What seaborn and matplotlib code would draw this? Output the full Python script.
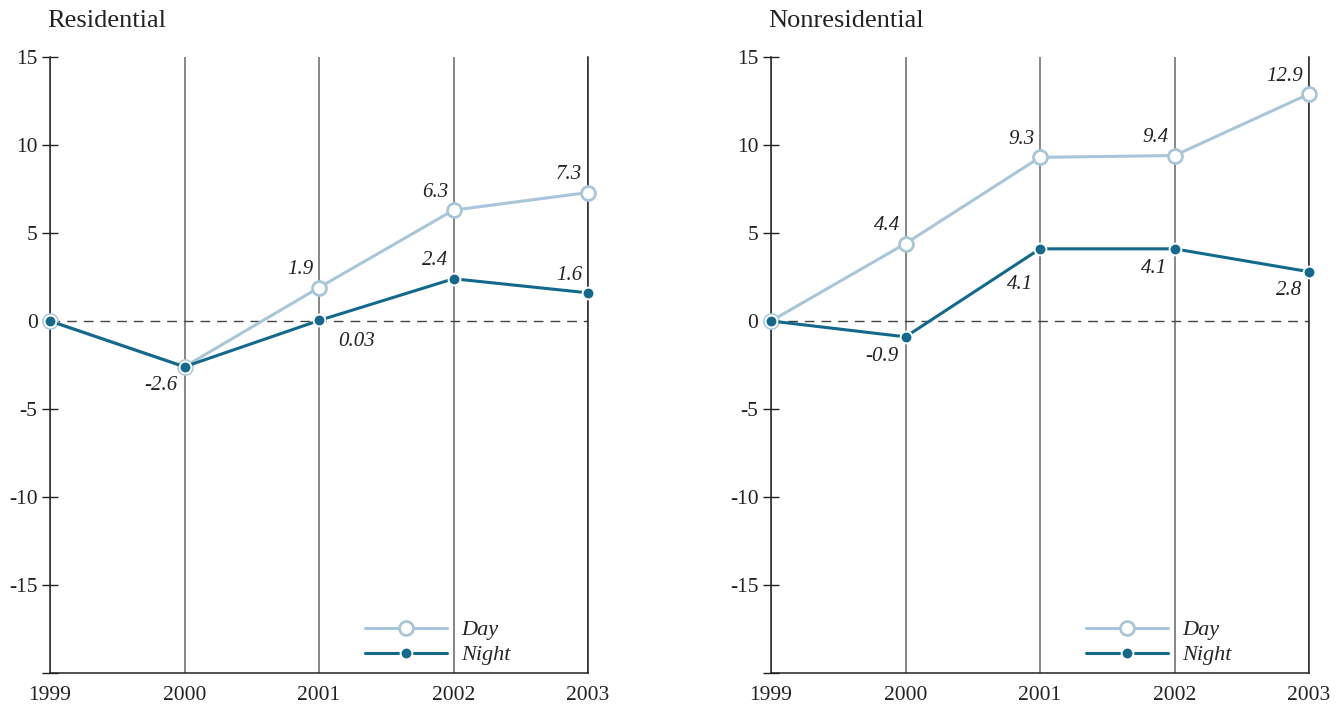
import matplotlib
matplotlib.use("Agg")
import matplotlib.pyplot as plt
import pandas as pd
import seaborn as sns

years = [1999, 2000, 2001, 2002, 2003]

res_day = [0, -2.6, 1.9, 6.3, 7.3]
res_night = [0, -2.6, 0.03, 2.4, 1.6]
nonres_day = [0, 4.4, 9.3, 9.4, 12.9]
nonres_night = [0, -0.9, 4.1, 4.1, 2.8]

res_day_labels = ["", "", "1.9", "6.3", "7.3"]
res_night_labels = ["", "-2.6", "0.03", "2.4", "1.6"]
nonres_day_labels = ["", "4.4", "9.3", "9.4", "12.9"]
nonres_night_labels = ["", "-0.9", "4.1", "4.1", "2.8"]

# where each value label sits relative to its point
res_day_pos = ["", "", "ul", "ul", "ul"]
res_night_pos = ["", "dl", "dr", "ul", "ul"]
nonres_day_pos = ["", "ul", "ul", "ul", "ul"]
nonres_night_pos = ["", "dl", "dl2", "dl", "dl"]

yticks = [-20, -15, -10, -5, 0, 5, 10, 15]
ytick_labels = ["", "-15", "-10", "-5", "0", "5", "10", "15"]

DAY_C = "#a9c6d9"
NIGHT_C = "#12698b"

sns.set_style("white")
plt.rcParams["font.family"] = ["Liberation Serif", "DejaVu Serif"]
plt.rcParams["axes.unicode_minus"] = False

OFFSETS = {
    "ul": ((-4, 6), "right", "bottom"),
    "dl": ((-5, -7), "right", "top"),
    "dl2": ((-5, -19), "right", "top"),
    "dr": ((14, -8), "left", "top"),
}


def draw_panel(ax, day, night, day_lab, night_lab, day_pos, night_pos, title, x0):
    df_day = pd.DataFrame({"year": years, "value": day})
    df_night = pd.DataFrame({"year": years, "value": night})

    ax.axhline(0, color="#444444", lw=1.0, dashes=(7, 5), zorder=1)

    sns.lineplot(
        data=df_day, x="year", y="value", ax=ax, color=DAY_C, lw=2.2,
        marker="o", markersize=10, markerfacecolor="white",
        markeredgecolor=DAY_C, markeredgewidth=2.0, label="Day", zorder=3,
        clip_on=False,
    )
    sns.lineplot(
        data=df_night, x="year", y="value", ax=ax, color=NIGHT_C, lw=2.2,
        marker="o", markersize=8.5, markerfacecolor=NIGHT_C,
        markeredgecolor="white", markeredgewidth=1.4, label="Night", zorder=4,
        clip_on=False,
    )

    for vals, labs, poss in [(day, day_lab, day_pos), (night, night_lab, night_pos)]:
        for yr, v, lab, p in zip(years, vals, labs, poss):
            if not lab:
                continue
            off, ha, va = OFFSETS[p]
            ax.annotate(lab, (yr, v), xytext=off, textcoords="offset points",
                        ha=ha, va=va, fontsize=15, style="italic", color="#222222")

    ax.set_xlim(1999, 2003)
    ax.set_ylim(-20, 15)
    ax.set_xticks(years)
    ax.set_xticklabels([str(y) for y in years], fontsize=15.5)
    ax.set_yticks(yticks)
    ax.set_yticklabels(ytick_labels, fontsize=15.5)
    ax.tick_params(axis="x", length=0, pad=9, colors="#222222")
    ax.tick_params(axis="y", direction="inout", length=12, width=1.0,
                   pad=3, colors="#222222", left=True)
    ax.set_xlabel("")
    ax.set_ylabel("")

    ax.grid(axis="x", color="#666666", lw=1.1)
    ax.grid(axis="y", visible=False)
    ax.spines["top"].set_visible(False)
    for s in ["left", "bottom", "right"]:
        ax.spines[s].set_color("#222222")
        ax.spines[s].set_linewidth(1.1)

    ax.legend(loc="lower left", bbox_to_anchor=(0.548, -0.02), frameon=False,
              prop={"size": 16, "style": "italic"}, handlelength=3.7,
              handletextpad=0.65, labelspacing=0.2)

    ax.figure.text(x0, 1 - 21 / 710, title, fontsize=19, va="center", ha="left",
                   color="#222222")


fig = plt.figure(figsize=(13.43, 7.10), dpi=100)
ax1 = fig.add_axes([50 / 1343, 1 - 673 / 710, 538 / 1343, 616 / 710])
ax2 = fig.add_axes([771 / 1343, 1 - 673 / 710, 538 / 1343, 616 / 710])

draw_panel(ax1, res_day, res_night, res_day_labels, res_night_labels,
           res_day_pos, res_night_pos, "Residential", 47 / 1343)
draw_panel(ax2, nonres_day, nonres_night, nonres_day_labels, nonres_night_labels,
           nonres_day_pos, nonres_night_pos, "Nonresidential", 768 / 1343)

fig.savefig("out.png", dpi=100)
